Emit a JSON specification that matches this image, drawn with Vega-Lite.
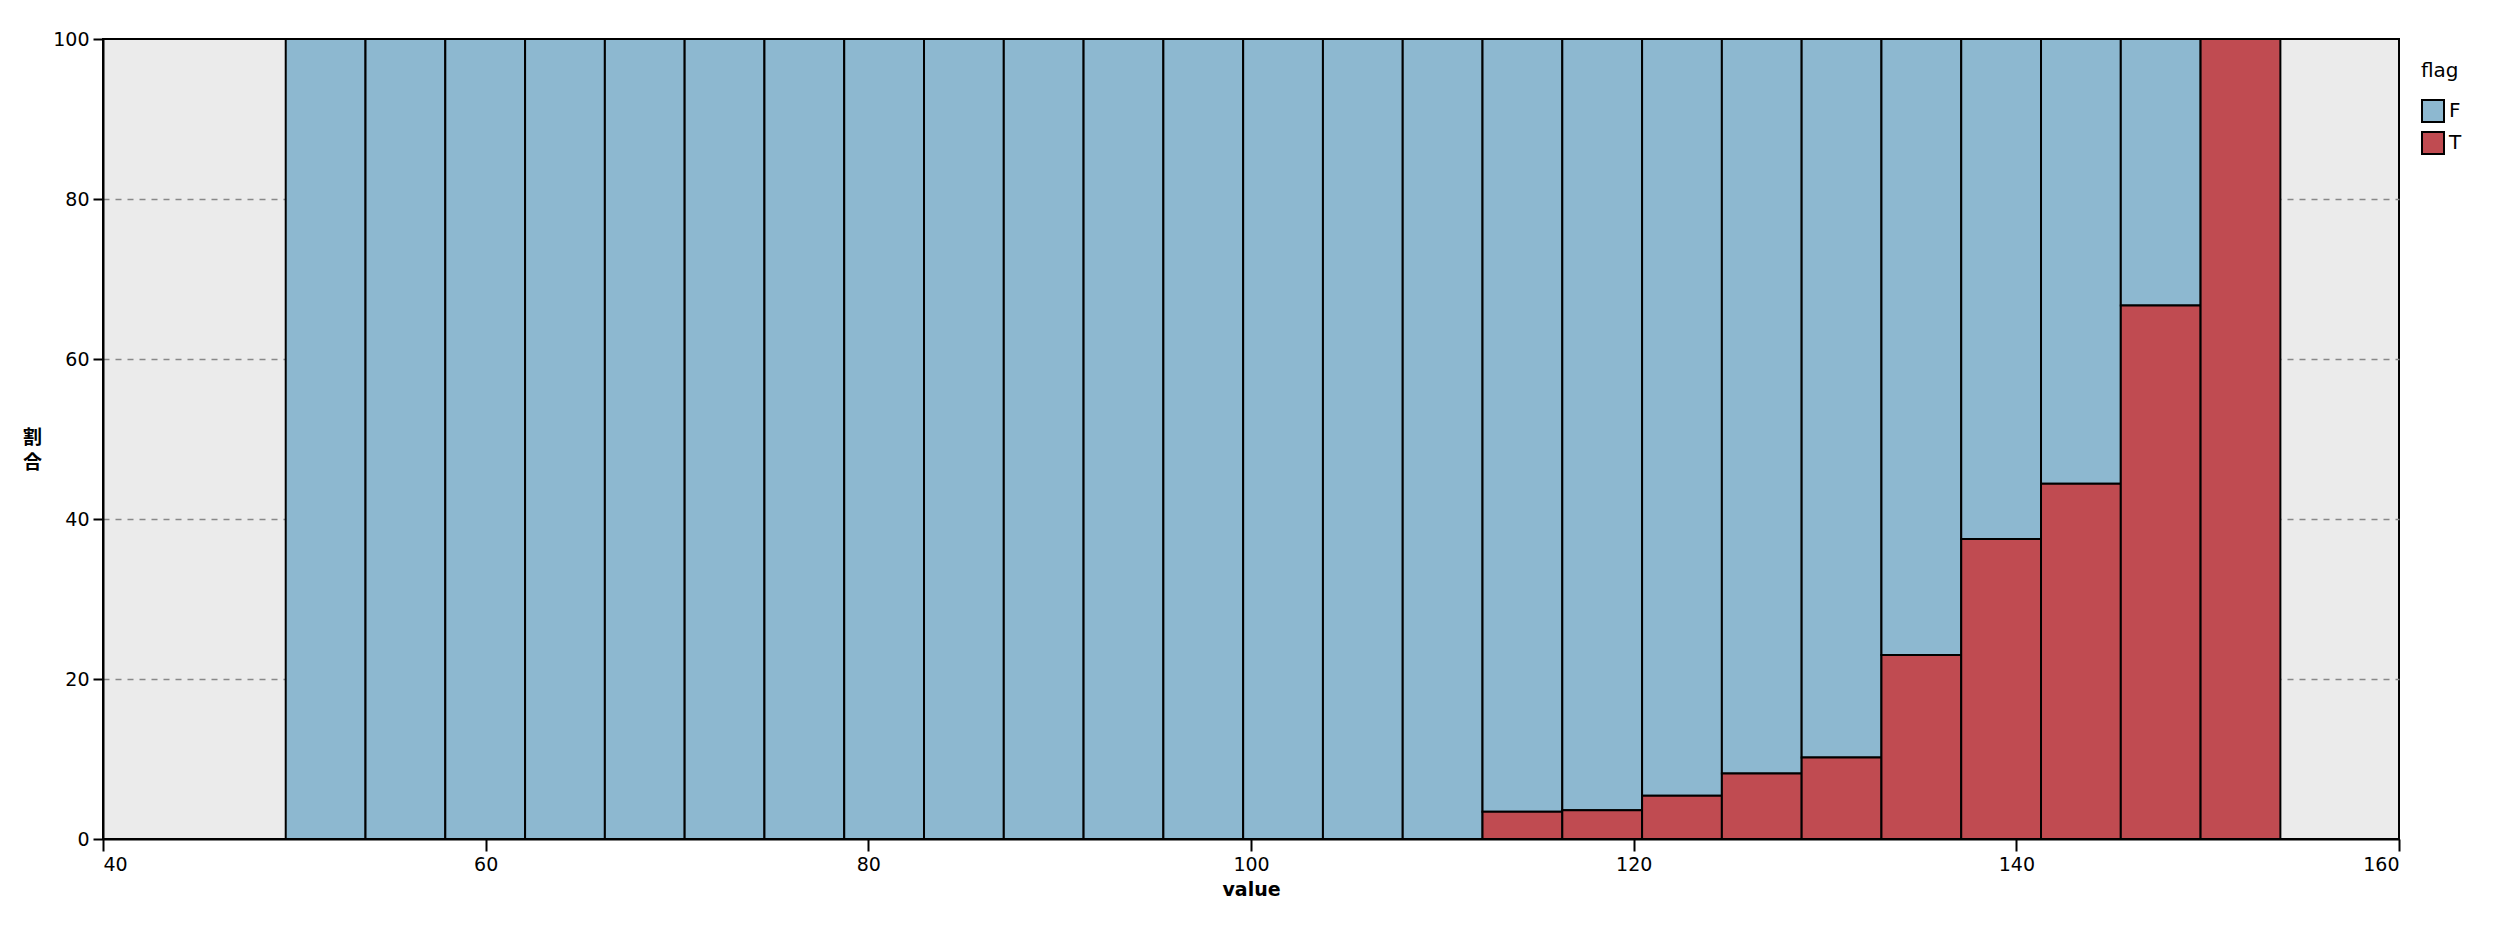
{
  "$schema": "https://vega.github.io/schema/vega-lite/v6.json",
  "width": 2296,
  "height": 800,
  "autosize": {"type": "none"},
  "padding": {"left": 103, "top": 39, "right": 95, "bottom": 89},
  "background": "white",
  "data": {
    "values": [
      {"start": 49.55, "end": 53.72, "flag": "F", "lo": 0, "hi": 100},
      {"start": 53.72, "end": 57.89, "flag": "F", "lo": 0, "hi": 100},
      {"start": 57.89, "end": 62.06, "flag": "F", "lo": 0, "hi": 100},
      {"start": 62.06, "end": 66.23, "flag": "F", "lo": 0, "hi": 100},
      {"start": 66.23, "end": 70.40, "flag": "F", "lo": 0, "hi": 100},
      {"start": 70.40, "end": 74.57, "flag": "F", "lo": 0, "hi": 100},
      {"start": 74.57, "end": 78.74, "flag": "F", "lo": 0, "hi": 100},
      {"start": 78.74, "end": 82.91, "flag": "F", "lo": 0, "hi": 100},
      {"start": 82.91, "end": 87.08, "flag": "F", "lo": 0, "hi": 100},
      {"start": 87.08, "end": 91.25, "flag": "F", "lo": 0, "hi": 100},
      {"start": 91.25, "end": 95.42, "flag": "F", "lo": 0, "hi": 100},
      {"start": 95.42, "end": 99.59, "flag": "F", "lo": 0, "hi": 100},
      {"start": 99.59, "end": 103.76, "flag": "F", "lo": 0, "hi": 100},
      {"start": 103.76, "end": 107.93, "flag": "F", "lo": 0, "hi": 100},
      {"start": 107.93, "end": 112.10, "flag": "F", "lo": 0, "hi": 100},
      {"start": 112.10, "end": 116.27, "flag": "F", "lo": 3.4, "hi": 100},
      {"start": 112.10, "end": 116.27, "flag": "T", "lo": 0, "hi": 3.4},
      {"start": 116.27, "end": 120.44, "flag": "F", "lo": 3.6, "hi": 100},
      {"start": 116.27, "end": 120.44, "flag": "T", "lo": 0, "hi": 3.6},
      {"start": 120.44, "end": 124.61, "flag": "F", "lo": 5.4, "hi": 100},
      {"start": 120.44, "end": 124.61, "flag": "T", "lo": 0, "hi": 5.4},
      {"start": 124.61, "end": 128.78, "flag": "F", "lo": 8.2, "hi": 100},
      {"start": 124.61, "end": 128.78, "flag": "T", "lo": 0, "hi": 8.2},
      {"start": 128.78, "end": 132.95, "flag": "F", "lo": 10.2, "hi": 100},
      {"start": 128.78, "end": 132.95, "flag": "T", "lo": 0, "hi": 10.2},
      {"start": 132.95, "end": 137.12, "flag": "F", "lo": 23.0, "hi": 100},
      {"start": 132.95, "end": 137.12, "flag": "T", "lo": 0, "hi": 23.0},
      {"start": 137.12, "end": 141.29, "flag": "F", "lo": 37.5, "hi": 100},
      {"start": 137.12, "end": 141.29, "flag": "T", "lo": 0, "hi": 37.5},
      {"start": 141.29, "end": 145.46, "flag": "F", "lo": 44.4, "hi": 100},
      {"start": 141.29, "end": 145.46, "flag": "T", "lo": 0, "hi": 44.4},
      {"start": 145.46, "end": 149.63, "flag": "F", "lo": 66.7, "hi": 100},
      {"start": 145.46, "end": 149.63, "flag": "T", "lo": 0, "hi": 66.7},
      {"start": 149.63, "end": 153.80, "flag": "T", "lo": 0, "hi": 100}
    ]
  },
  "mark": {"type": "rect", "stroke": "black", "strokeWidth": 2},
  "encoding": {
    "x": {
      "field": "start",
      "type": "quantitative",
      "title": "value",
      "scale": {"domain": [40, 160], "nice": false, "zero": false},
      "axis": {"values": [40, 60, 80, 100, 120, 140, 160], "grid": false, "tickSize": 12, "labelPadding": 4, "titlePadding": 6}
    },
    "x2": {"field": "end"},
    "y": {
      "field": "lo",
      "type": "quantitative",
      "title": ["割", "合"],
      "scale": {"domain": [0, 100], "nice": false},
      "axis": {
        "values": [0, 20, 40, 60, 80, 100],
        "grid": true,
        "gridDash": [6, 6],
        "gridColor": "#888888",
        "gridWidth": 1.5,
        "gridOpacity": {"condition": {"test": "datum.value == 0 || datum.value == 100", "value": 0}, "value": 1},
        "tickSize": 10,
        "labelPadding": 4,
        "titleAngle": 360,
        "titleFont": "Noto Sans CJK JP",
        "titleFontSize": 19,
        "titleAlign": "center",
        "titleBaseline": "middle",
        "titleX": -71,
        "titleY": 398,
        "titleLineHeight": 25
      }
    },
    "y2": {"field": "hi"},
    "color": {
      "field": "flag",
      "type": "nominal",
      "title": "flag",
      "scale": {"domain": ["F", "T"], "range": ["#8db8d0", "#c04b51"]},
      "legend": {"symbolType": "square", "symbolSize": 484, "symbolStrokeColor": "black", "symbolStrokeWidth": 2, "padding": 22, "offset": 0, "rowPadding": 2, "titlePadding": 18}
    }
  },
  "config": {
    "font": "DejaVu Sans",
    "view": {"fill": "#ebebeb", "stroke": "black", "strokeWidth": 2},
    "axis": {
      "domainColor": "black",
      "domainWidth": 2,
      "tickColor": "black",
      "tickWidth": 2,
      "labelFontSize": 19,
      "labelColor": "black",
      "titleFontSize": 19,
      "titleFontWeight": "bold",
      "titleColor": "black"
    },
    "legend": {
      "titleFontSize": 20,
      "titleFontWeight": "normal",
      "titleColor": "black",
      "labelFontSize": 20,
      "labelColor": "black"
    }
  }
}
